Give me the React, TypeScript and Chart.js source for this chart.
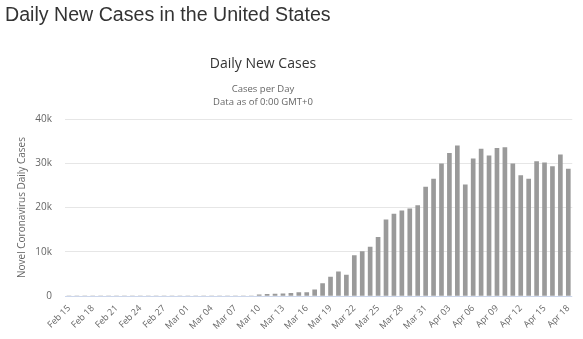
import React, { useEffect, useRef } from "react";
import { Chart, registerables } from "chart.js";

Chart.register(...registerables);

const dates: string[] = [
  "Feb 15", "Feb 16", "Feb 17", "Feb 18", "Feb 19", "Feb 20", "Feb 21", "Feb 22", "Feb 23", "Feb 24",
  "Feb 25", "Feb 26", "Feb 27", "Feb 28", "Feb 29", "Mar 01", "Mar 02", "Mar 03", "Mar 04", "Mar 05",
  "Mar 06", "Mar 07", "Mar 08", "Mar 09", "Mar 10", "Mar 11", "Mar 12", "Mar 13", "Mar 14", "Mar 15",
  "Mar 16", "Mar 17", "Mar 18", "Mar 19", "Mar 20", "Mar 21", "Mar 22", "Mar 23", "Mar 24", "Mar 25",
  "Mar 26", "Mar 27", "Mar 28", "Mar 29", "Mar 30", "Mar 31", "Apr 01", "Apr 02", "Apr 03", "Apr 04",
  "Apr 05", "Apr 06", "Apr 07", "Apr 08", "Apr 09", "Apr 10", "Apr 11", "Apr 12", "Apr 13", "Apr 14",
  "Apr 15", "Apr 16", "Apr 17", "Apr 18",
];

const dailyCases: number[] = [
  0, 0, 0, 0, 0, 0, 0, 0, 0, 0,
  0, 0, 0, 0, 0, 0, 0, 0, 0, 0,
  0, 0, 0, 0, 290, 400, 450, 500, 600, 750,
  800, 1400, 2800, 4300, 5450, 4700, 9150, 10050, 11050, 13250,
  17200, 18500, 19250, 19700, 20450, 24600, 26450, 29850, 32250, 33950,
  25150, 31000, 33200, 31650, 33400, 33550, 29850, 27200, 26450, 30400,
  30100, 29250, 31900, 28700,
];

const yTicks: number[] = [0, 10000, 20000, 30000, 40000];
const yTickLabels: string[] = ["0", "10k", "20k", "30k", "40k"];

const FONT = "'Open Sans', sans-serif";

export default function App() {
  const canvasRef = useRef<HTMLCanvasElement | null>(null);

  useEffect(() => {
    document.body.style.margin = "0";
    const canvas = canvasRef.current;
    if (!canvas) return;
    const chart = new Chart(canvas, {
      type: "bar",
      data: {
        labels: dates,
        datasets: [
          {
            label: "Daily Cases",
            data: dailyCases,
            backgroundColor: "#9a9a9a",
            borderWidth: 0,
            barThickness: 4,
          },
        ],
      },
      options: {
        animation: false,
        responsive: false,
        maintainAspectRatio: false,
        layout: { padding: { left: 0, right: 8, top: 119, bottom: 0 } },
        plugins: {
          legend: { display: false },
          tooltip: { enabled: false },
          title: { display: false },
          subtitle: { display: false },
        },
        scales: {
          x: {
            grid: { display: false, drawTicks: false },
            border: { display: false },
            ticks: {
              autoSkip: false,
              maxRotation: 45,
              minRotation: 45,
              padding: 7,
              color: "#666666",
              font: { family: FONT, size: 9 },
              callback: (_v: any, i: number) => (i % 3 === 0 ? dates[i] : ""),
            },
            afterFit: (scale: any) => {
              scale.height = 43;
            },
          },
          y: {
            min: 0,
            max: 40000,
            afterBuildTicks: (scale: any) => {
              scale.ticks = yTicks.map((v) => ({ value: v }));
            },
            grid: {
              drawTicks: false,
              color: (ctx: any) => (ctx.tick && ctx.tick.value === 0 ? "#ccd6eb" : "#e6e6e6"),
              lineWidth: 1,
            },
            border: { display: false },
            ticks: {
              padding: 13,
              color: "#666666",
              font: { family: FONT, size: 10 },
              callback: (v: any) => {
                const idx = yTicks.indexOf(Number(v));
                return idx >= 0 ? yTickLabels[idx] : "";
              },
            },
            title: {
              display: true,
              text: "Novel Coronavirus Daily Cases",
              color: "#666666",
              font: { family: FONT, size: 10 },
              padding: { top: 16, bottom: 0 },
            },
            afterFit: (scale: any) => {
              scale.width = 65;
            },
          },
        },
      },
    });
    return () => chart.destroy();
  }, []);

  const center = 263;

  return (
    <div style={{ position: "relative", width: 583, height: 339, overflow: "hidden", background: "#ffffff" }}>
      <canvas ref={canvasRef} width={583} height={339} style={{ position: "absolute", left: 0, top: 0, width: 583, height: 339 }} />
      <div
        style={{
          position: "absolute",
          left: 5,
          top: 2,
          fontFamily: "'Liberation Sans', Arial, sans-serif",
          fontSize: 19.6,
          color: "#333333",
          whiteSpace: "nowrap",
          lineHeight: "24px",
        }}
      >
        Daily New Cases in the United States
      </div>
      <div
        style={{
          position: "absolute",
          left: center - 150,
          width: 300,
          top: 53,
          textAlign: "center",
          fontFamily: FONT,
          fontSize: 14,
          lineHeight: "20px",
          color: "#333333",
          whiteSpace: "nowrap",
        }}
      >
        Daily New Cases
      </div>
      <div
        style={{
          position: "absolute",
          left: center - 150,
          width: 300,
          top: 83,
          textAlign: "center",
          fontFamily: FONT,
          fontSize: 9.5,
          lineHeight: "12.5px",
          color: "#666666",
          whiteSpace: "nowrap",
        }}
      >
        <div>Cases per Day</div>
        <div>Data as of 0:00 GMT+0</div>
      </div>
    </div>
  );
}
